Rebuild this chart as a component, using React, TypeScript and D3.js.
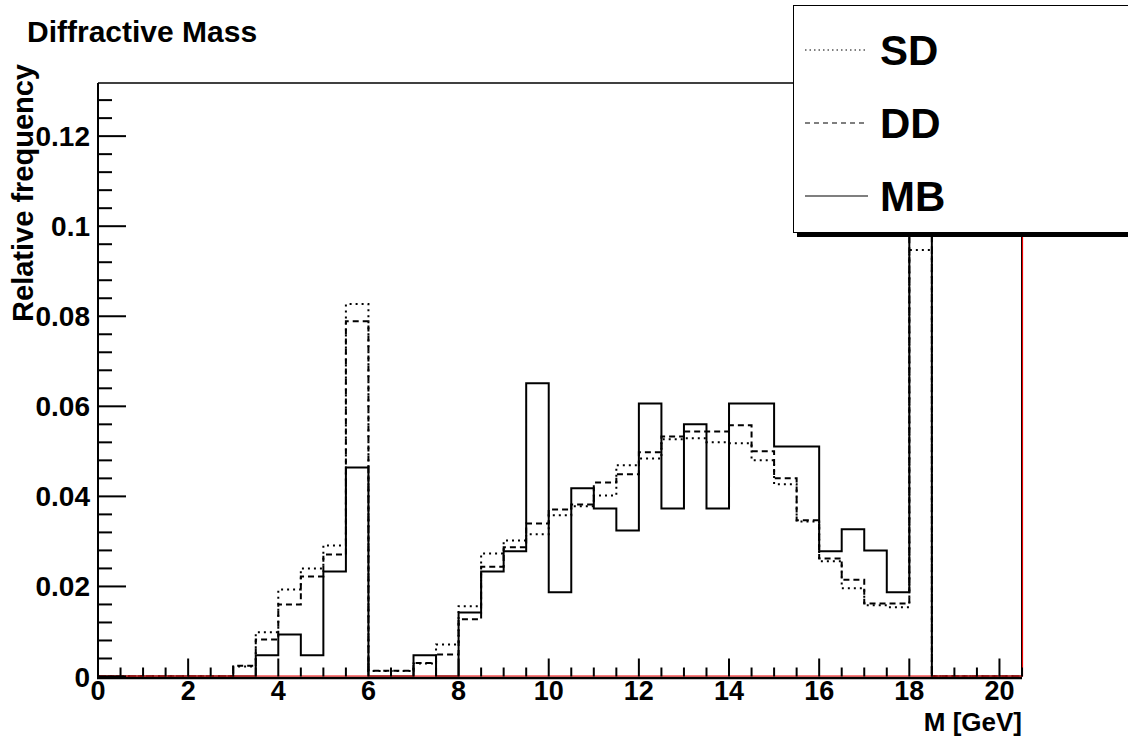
import React from "react";
import * as d3 from "d3";

const binWidth = 0.5;
const xMin = 0;
const xMax = 20.5;
const yMax = 0.1318;

const sdValues = [0, 0, 0, 0, 0, 0, 0.0022, 0.0098, 0.0193, 0.024, 0.0291, 0.0827, 0.0012, 0.0012, 0.0029, 0.0071, 0.0156, 0.0273, 0.0302, 0.0316, 0.0358, 0.0378, 0.0402, 0.0469, 0.0484, 0.0527, 0.0529, 0.052, 0.0518, 0.048, 0.0427, 0.0344, 0.0256, 0.0196, 0.0158, 0.0154, 0.0947, 0, 0, 0, 0];
const ddValues = [0, 0, 0, 0, 0, 0, 0.0024, 0.0082, 0.016, 0.0222, 0.0271, 0.0789, 0.0013, 0.0013, 0.003, 0.0049, 0.0127, 0.0244, 0.0287, 0.034, 0.0371, 0.0382, 0.0431, 0.0449, 0.0498, 0.0533, 0.0544, 0.0544, 0.0558, 0.05, 0.044, 0.0347, 0.0262, 0.0215, 0.0162, 0.0162, 0.14, 0, 0, 0, 0];
const mbValues = [0, 0, 0, 0, 0, 0, 0, 0.0047, 0.0093, 0.0047, 0.0233, 0.0464, 0, 0, 0.0047, 0, 0.0142, 0.0233, 0.0278, 0.0651, 0.0187, 0.0418, 0.0373, 0.0324, 0.0606, 0.0373, 0.056, 0.0373, 0.0606, 0.0606, 0.0511, 0.0511, 0.0278, 0.0327, 0.028, 0.0187, 0.16, 0, 0, 0, 0];

const xMajorTicks = [0, 2, 4, 6, 8, 10, 12, 14, 16, 18, 20];
const yMajorTicks = [0, 0.02, 0.04, 0.06, 0.08, 0.1, 0.12];
const yTickLabels = ["0", "0.02", "0.04", "0.06", "0.08", "0.1", "0.12"];

const seriesNames = ["SD", "DD", "MB"];
const seriesDash = ["2,4", "6,4", null];

const L = 98, R = 1022, T = 83, B = 676.5;
const FONT = "'Liberation Sans', Arial, Helvetica, sans-serif";

export default function App() {
  const x = d3.scaleLinear().domain([xMin, xMax]).range([L, R]);
  const y = d3.scaleLinear().domain([0, yMax]).range([B, T]);

  const histPath = (vals: number[]) => {
    const pts: [number, number][] = [[x(xMin), y(0)]];
    vals.forEach((v, i) => {
      const x0 = xMin + i * binWidth;
      pts.push([x(x0), y(v)]);
      pts.push([x(x0 + binWidth), y(v)]);
    });
    pts.push([x(xMax), y(0)]);
    return d3.line()(pts) as string;
  };

  const xMinor = d3.range(xMin, xMax + 0.001, 0.5);
  const yMinor = d3.range(0, yMax, 0.004);
  const allSeries = [sdValues, ddValues, mbValues];

  return (
    <svg width={1128} height={736} style={{ position: "absolute", left: 0, top: 0, background: "#fff" }}>
      <defs>
        <clipPath id="frame">
          <rect x={L} y={T} width={R - L} height={B - T} />
        </clipPath>
      </defs>
      <rect x={0} y={0} width={1128} height={736} fill="#fff" />
      <text x={27} y={42} fontFamily={FONT} fontWeight="bold" fontSize={30}>Diffractive Mass</text>

      {/* histograms */}
      <g clipPath="url(#frame)" fill="none" stroke="#000" strokeWidth={2}>
        {allSeries.map((vals, i) => (
          <path key={i} d={histPath(vals)} strokeDasharray={seriesDash[i] ?? undefined} />
        ))}
      </g>

      {/* frame */}
      <line x1={L} y1={T} x2={R} y2={T} stroke="#000" strokeWidth={1.5} />
      <line x1={L} y1={T} x2={L} y2={B + 1} stroke="#000" strokeWidth={2} />
      <line x1={L - 1} y1={B + 1.5} x2={R} y2={B + 1.5} stroke="#000" strokeWidth={2.5} />
      <line x1={R} y1={T} x2={R} y2={B} stroke="#000" strokeWidth={2} />
      <line x1={L} y1={B - 0.5} x2={R} y2={B - 0.5} stroke="#e00" strokeWidth={1.2} />
      <line x1={R + 0.5} y1={T} x2={R + 0.5} y2={B} stroke="#e00" strokeWidth={1.2} />

      {/* ticks */}
      <g stroke="#000" strokeWidth={2}>
        {xMinor.map((t, i) => {
          const major = xMajorTicks.includes(t);
          return <line key={i} x1={x(t)} x2={x(t)} y1={B} y2={B - (major ? 18 : 9)} />;
        })}
        {yMinor.map((t, i) => {
          const major = yMajorTicks.some((m) => Math.abs(m - t) < 1e-6);
          return <line key={i} x1={L} x2={L + (major ? 28 : 14)} y1={y(t)} y2={y(t)} />;
        })}
      </g>

      <g fontFamily={FONT} fontWeight="bold" fontSize={27} fill="#000">
        {xMajorTicks.map((t) => (
          <text key={t} x={x(t)} y={700} textAnchor="middle">{t}</text>
        ))}
        {yMajorTicks.map((t, i) => (
          <text key={t} x={90} y={y(t) + 10} textAnchor="end" fontSize={28}>{yTickLabels[i]}</text>
        ))}
        <text x={R} y={731} textAnchor="end" fontSize={26}>M [GeV]</text>
        <text transform={`translate(33,64) rotate(-90)`} textAnchor="end" fontSize={29}>Relative frequency</text>
      </g>

      {/* legend */}
      <rect x={797} y={10} width={340} height={227} fill="#000" />
      <rect x={793.5} y={5.5} width={340} height={227} fill="#fff" stroke="#000" strokeWidth={1} />
      {seriesNames.map((name, i) => {
        const cy = 50 + i * 73;
        return (
          <g key={name}>
            <line x1={805} x2={868} y1={cy} y2={cy} stroke="#000" strokeWidth={1.2}
              strokeDasharray={i === 0 ? "1.5,3" : i === 1 ? "5,4" : undefined} />
            <text x={880} y={cy + 15} fontFamily={FONT} fontWeight="bold" fontSize={42}>{name}</text>
          </g>
        );
      })}
    </svg>
  );
}
